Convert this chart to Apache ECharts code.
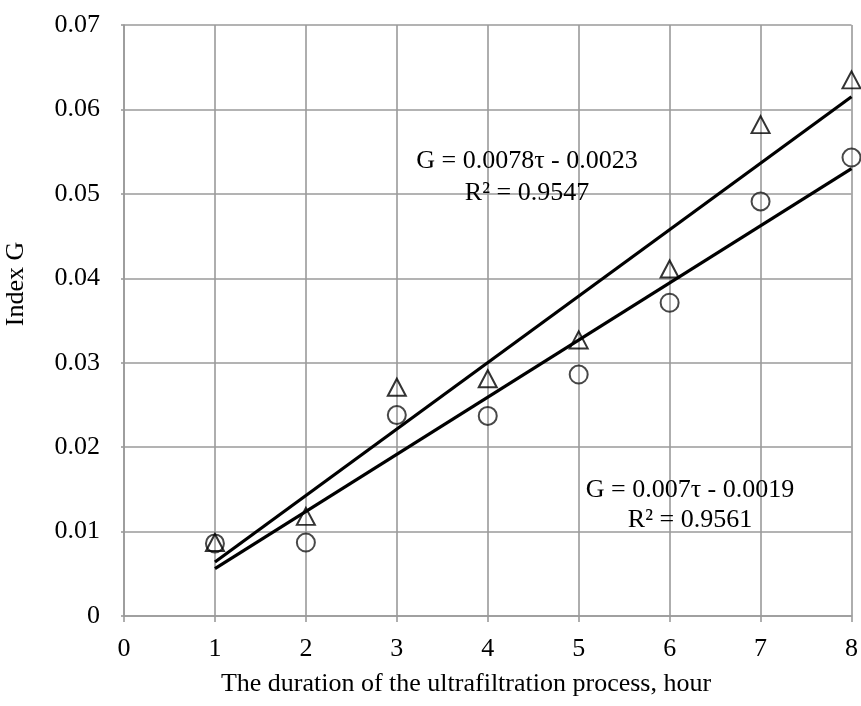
<!DOCTYPE html>
<html>
<head>
<meta charset="utf-8">
<script src="https://cdn.jsdelivr.net/npm/echarts@6/dist/echarts.min.js"></script>
<style>html,body{margin:0;padding:0;background:#fff;overflow:hidden;}#c{width:861px;height:706px;}</style>
</head>
<body>
<div id="c"></div>
<script>
// ---- data ----
const hours = [1, 2, 3, 4, 5, 6, 7, 8];
const triangleValues = [0.0087, 0.0118, 0.0271, 0.0281, 0.0327, 0.0411, 0.0582, 0.0635];
const circleValues   = [0.0086, 0.0087, 0.0238, 0.0237, 0.0286, 0.0371, 0.0491, 0.0543];
const triangleTrend = [[1, 0.0064], [8, 0.0615]];
const circleTrend   = [[1, 0.0056], [8, 0.0530]];
const xTicks = [0, 1, 2, 3, 4, 5, 6, 7, 8];
const yTicks = [0, 0.01, 0.02, 0.03, 0.04, 0.05, 0.06, 0.07];
const eqTriangle = ['G = 0.0078τ - 0.0023', 'R² = 0.9547'];
const eqCircle = ['G = 0.007τ - 0.0019', 'R² = 0.9561'];
const xTitle = 'The duration of the ultrafiltration process, hour';
const yTitle = 'Index G';

const FONT = 'Liberation Serif';
const FS = 26;
const gridColor = '#9a9a9a';
const gridWidth = 1.6;

const chart = echarts.init(document.getElementById('c'), null, {renderer: 'canvas', width: 861, height: 706});
function txt(s, x, y, rot) {
  return {
    type: 'text', x: x, y: y, rotation: rot || 0, z: 100,
    style: {text: s, font: FS + 'px "' + FONT + '"', fill: '#000', textAlign: 'center', textVerticalAlign: 'middle'}
  };
}
const option = {
  animation: false,
  backgroundColor: '#fff',
  grid: {left: 124, right: 3, top: 25, bottom: 90, containLabel: false},
  xAxis: {
    type: 'value', min: 0, max: 8, interval: 1,
    axisLine: {show: true, lineStyle: {color: gridColor, width: gridWidth}},
    axisTick: {show: true, length: 6, lineStyle: {color: gridColor, width: gridWidth}},
    axisLabel: {margin: 20, color: '#000', fontFamily: FONT, fontSize: FS,
      formatter: v => xTicks.includes(v) ? String(v) : ''},
    splitLine: {show: true, lineStyle: {color: gridColor, width: gridWidth}}
  },
  yAxis: {
    type: 'value', min: 0, max: 0.07, interval: 0.01,
    axisLine: {show: true, lineStyle: {color: gridColor, width: gridWidth}},
    axisTick: {show: true, length: 3, lineStyle: {color: gridColor, width: gridWidth}},
    axisLabel: {margin: 24, color: '#000', fontFamily: FONT, fontSize: FS,
      formatter: v => {
        const t = yTicks.find(k => Math.abs(k - v) < 1e-9);
        return t === undefined ? '' : (t === 0 ? '0' : t.toFixed(2));
      }},
    splitLine: {show: true, lineStyle: {color: gridColor, width: gridWidth}}
  },
  series: [
    {
      type: 'line', data: triangleTrend, showSymbol: false, symbol: 'none',
      lineStyle: {color: '#000', width: 3.2}, z: 3, silent: true
    },
    {
      type: 'line', data: circleTrend, showSymbol: false, symbol: 'none',
      lineStyle: {color: '#000', width: 3.2}, z: 3, silent: true
    },
    {
      type: 'scatter', data: hours.map((h, i) => [h, circleValues[i]]),
      symbol: 'circle', symbolSize: 18,
      itemStyle: {color: 'rgba(0,0,0,0)', borderColor: '#1a1a1a', borderWidth: 2}, z: 4
    },
    {
      type: 'scatter', data: hours.map((h, i) => [h, triangleValues[i]]),
      symbol: 'triangle', symbolSize: [18, 17],
      itemStyle: {color: 'rgba(0,0,0,0)', borderColor: '#000', borderWidth: 2}, z: 5
    }
  ],
  graphic: [
    txt(eqTriangle[0], 527, 161),
    txt(eqTriangle[1], 527, 193),
    txt(eqCircle[0], 690, 490),
    txt(eqCircle[1], 690, 520),
    txt(xTitle, 466, 684),
    txt(yTitle, 16, 284, Math.PI / 2)
  ]
};
chart.setOption(option);
</script>
</body>
</html>
